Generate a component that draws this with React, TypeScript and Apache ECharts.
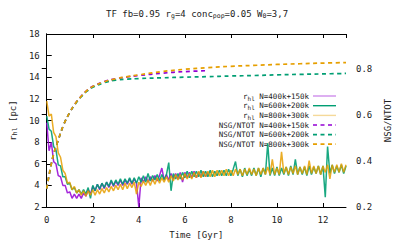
import React, { useEffect, useRef } from "react";
import * as echarts from "echarts";

const FONT = "DejaVu Sans Mono";

const T = [
  0, 0.1, 0.2, 0.3, 0.4, 0.5, 0.6, 0.7, 0.8, 0.9,
  1, 1.1, 1.2, 1.3, 1.4, 1.5, 1.6, 1.7, 1.8, 1.9,
  2, 2.1, 2.2, 2.3, 2.4, 2.5, 2.6, 2.7, 2.8, 2.9,
  3, 3.1, 3.2, 3.3, 3.4, 3.5, 3.6, 3.7, 3.8, 3.9,
  4, 4.1, 4.2, 4.3, 4.4, 4.5, 4.6, 4.7, 4.8, 4.9,
  5, 5.1, 5.2, 5.3, 5.4, 5.5, 5.6, 5.7, 5.8, 5.9,
  6, 6.1, 6.2, 6.3, 6.4, 6.5, 6.6, 6.7, 6.8, 6.9,
  7, 7.1, 7.2, 7.3, 7.4, 7.5, 7.6, 7.7, 7.8, 7.9,
  8, 8.1, 8.2, 8.3, 8.4, 8.5, 8.6, 8.7, 8.8, 8.9,
  9, 9.1, 9.2, 9.3, 9.4, 9.5, 9.6, 9.7, 9.8, 9.9,
  10, 10.1, 10.2, 10.3, 10.4, 10.5, 10.6, 10.7, 10.8, 10.9,
  11, 11.1, 11.2, 11.3, 11.4, 11.5, 11.6, 11.7, 11.8, 11.9,
  12, 12.1, 12.2, 12.3, 12.4, 12.5, 12.6, 12.7, 12.8, 12.9,
  13,
];

const rhl400 = [
  9.8, 7.2, 8.0, 6.2, 6.0, 4.9, 4.8, 4.0, 4.0, 3.3,
  3.4, 2.8, 3.2, 2.8, 3.2, 2.8, 3.3, 3.0, 3.6, 3.2,
  3.9, 3.5, 4.1, 3.6, 4.2, 3.7, 4.3, 3.8, 4.4, 3.9,
  4.4, 4.0, 4.5, 4.0, 4.5, 4.1, 4.6, 4.1, 4.6, 4.2,
  2.0, 4.7, 4.3, 4.8, 4.3, 4.8, 4.4, 4.9, 4.4, 4.9,
  5.6, 4.5, 5.0, 4.5, 5.1, 4.6, 5.1, 4.6, 5.2, 4.3,
  5.2, 4.7, 5.2, 4.7, 5.3, 4.7, 5.2, 4.8, 5.3, 4.8,
  5.2,
];

const rhl600 = [
  10.4, 9.2, 9.0, 7.6, 7.3, 5.9, 5.8, 4.8, 4.8, 4.1,
  4.2, 3.6, 3.8, 3.3, 3.6, 3.2, 3.6, 3.2, 3.8, 2.8,
  4.0, 3.5, 4.1, 3.7, 4.2, 3.8, 4.3, 3.9, 4.5, 4.0,
  4.5, 4.1, 4.6, 4.1, 4.6, 4.2, 4.7, 4.2, 4.7, 4.2,
  4.8, 4.3, 4.9, 4.3, 5.1, 4.4, 4.9, 4.5, 5.0, 4.4,
  5.0, 4.5, 5.0, 6.1, 3.5, 5.1, 4.6, 5.1, 4.6, 5.2,
  4.7, 5.3, 4.7, 5.3, 4.8, 5.3, 4.8, 5.4, 4.8, 5.3,
  4.8, 5.4, 4.8, 5.3, 4.9, 5.4, 4.9, 5.4, 4.9, 5.5,
  4.9, 5.5, 6.2, 4.9, 5.5, 4.8, 5.6, 4.9, 5.5, 4.9,
  5.6, 4.9, 5.6, 4.8, 5.6, 5.0, 7.9, 4.9, 5.6, 4.9,
  5.7, 4.9, 5.6, 5.0, 5.7, 4.9, 5.8, 5.0, 6.4, 5.0,
  5.7, 5.0, 5.7, 4.9, 5.8, 5.0, 5.7, 5.1, 5.8, 5.0,
  5.8, 2.9, 7.6, 5.1, 5.9, 5.1, 5.8, 5.2, 5.9, 5.1,
  5.8,
];

const rhl800 = [
  11.8, 10.4, 10.6, 8.9, 8.5, 7.0, 6.6, 5.4, 5.1, 4.2,
  4.3, 3.6, 3.9, 3.3, 3.6, 3.1, 3.5, 3.0, 3.5, 3.1,
  3.6, 3.1, 3.6, 3.2, 3.7, 3.3, 3.8, 3.4, 3.9, 3.5,
  4.0, 3.6, 4.1, 3.6, 4.2, 3.7, 4.2, 3.8, 4.3, 3.2,
  4.3, 3.9, 4.4, 4.0, 4.5, 4.0, 4.6, 4.1, 4.7, 4.2,
  4.7, 4.3, 4.8, 4.3, 4.9, 4.4, 5.0, 4.5, 5.0, 4.5,
  5.1, 4.6, 5.1, 4.6, 5.2, 4.7, 5.3, 4.7, 5.3, 4.8,
  5.3, 4.8, 5.4, 4.8, 5.4, 4.9, 5.4, 4.9, 5.5, 4.9,
  5.4, 4.9, 5.5, 5.0, 5.5, 4.9, 5.5, 5.0, 5.6, 5.0,
  5.5, 4.9, 5.6, 5.0, 5.6, 5.0, 5.7, 5.0, 6.4, 5.0,
  5.6, 5.0, 7.1, 5.1, 5.7, 5.0, 5.7, 5.1, 5.8, 5.0,
  5.7, 5.1, 5.8, 5.0, 6.3, 5.1, 5.8, 5.1, 5.8, 5.0,
  5.8, 5.2, 5.9, 4.6, 5.9, 5.2, 5.9, 5.2, 6.0, 5.2,
  5.9,
];

const nsgTime = [0, 0.25, 0.5, 0.75, 1, 1.25, 1.5, 1.75, 2, 2.5, 3, 3.5, 4, 5, 6, 7, 8, 9, 10, 11, 12, 13];
const nsg400 = [0.28, 0.41, 0.49, 0.56, 0.61, 0.65, 0.681, 0.706, 0.723, 0.744, 0.756, 0.764, 0.77, 0.78, 0.787, 0.791];
const nsg600 = [0.28, 0.41, 0.49, 0.56, 0.61, 0.648, 0.678, 0.702, 0.719, 0.739, 0.75, 0.754, 0.757, 0.76, 0.763, 0.765, 0.768, 0.77, 0.773, 0.775, 0.777, 0.779];
const nsg800 = [0.28, 0.41, 0.49, 0.56, 0.61, 0.65, 0.68, 0.705, 0.722, 0.743, 0.756, 0.765, 0.773, 0.787, 0.797, 0.804, 0.81, 0.814, 0.818, 0.821, 0.824, 0.826];

const labels = ["N=400k+150k", "N=600k+200k", "N=800k+300k"];
const colors = ["#9400d3", "#009e73", "#e69f00"];

const pairs = (xs: number[], ys: number[]) => ys.map((y, i) => [xs[i], y]);

export default function App() {
  const ref = useRef<HTMLDivElement>(null);
  useEffect(() => {
    if (!ref.current) return;
    const chart = echarts.init(ref.current, null, { renderer: "svg" });
    const rhlSets = [rhl400, rhl600, rhl800];
    const nsgSets = [nsg400, nsg600, nsg800];
    const rhlNames = labels.map((l) => "rhl " + l);
    const nsgNames = labels.map((l) => "NSG/NTOT " + l);
    const rhlOpacity = [0.85, 0.9, 0.85];
    const legendIconOpacity = [0.45, 1, 0.4];

    const series: any[] = [];
    rhlSets.forEach((d, i) =>
      series.push({
        type: "line",
        name: rhlNames[i],
        xAxisIndex: 0,
        yAxisIndex: 0,
        data: pairs(T, d),
        symbol: "none",
        showSymbol: false,
        lineStyle: { color: colors[i], width: 1.5, opacity: rhlOpacity[i] },
        itemStyle: { color: colors[i] },
      })
    );
    nsgSets.forEach((d, i) =>
      series.push({
        type: "line",
        name: nsgNames[i],
        xAxisIndex: 0,
        yAxisIndex: 1,
        data: pairs(nsgTime, d),
        smooth: 0.4,
        symbol: "none",
        showSymbol: false,
        lineStyle: { color: colors[i], width: 1.7, type: [4, 3.5] },
        itemStyle: { color: colors[i] },
      })
    );

    const sub = { fontSize: 6, fontFamily: FONT, fill: "#222", color: "#222", padding: [4, 0, 0, 0] };
    const norm = { fontSize: 7.5, fontFamily: FONT, fill: "#222", color: "#222" };
    const rowY = [96, 105.7, 115.4, 125, 134.6, 144.2];
    const legendGraphics: any[] = [];
    [...rhlNames, ...nsgNames].forEach((n, k) => {
      const i = k % 3;
      const isRhl = k < 3;
      legendGraphics.push({
        type: "text",
        x: 309,
        y: rowY[k],
        silent: true,
        style: {
          text: isRhl ? "{n|r}{s|hl} " + labels[i] : n,
          align: "right",
          verticalAlign: "middle",
          fontSize: 7.5,
          fontFamily: FONT,
          fill: "#222",
          rich: { n: norm, s: sub },
        },
      });
      legendGraphics.push({
        type: "line",
        silent: true,
        shape: { x1: 313, y1: rowY[k], x2: 336, y2: rowY[k] },
        style: isRhl
          ? { stroke: colors[i], lineWidth: 1.4, opacity: legendIconOpacity[i] }
          : { stroke: colors[i], lineWidth: 1.7, lineDash: [4, 3.5] },
      });
    });

    const axisText = { fontSize: 9, fontFamily: FONT, color: "#222" };
    const line = { show: true, lineStyle: { color: "#000", width: 1 } };
    const tick = (len: number) => ({ show: true, inside: true, length: len, lineStyle: { color: "#000" } });

    chart.setOption({
      animation: false,
      textStyle: { fontFamily: FONT },
      title: {
        text: "TF fb=0.95 r{s|g}=4 conc{s|pop}=0.05 W{s|0}=3,7",
        left: 106,
        top: 8,
        padding: 0,
        textStyle: {
          fontSize: 9,
          fontWeight: "normal",
          fontFamily: FONT,
          color: "#222",
          rich: { s: { ...sub, fontSize: 6.5 } },
        },
      },
      graphic: legendGraphics,
      grid: { left: 42, right: 61, top: 34, bottom: 37 },
      xAxis: [
        {
          type: "value",
          position: "bottom",
          min: 0,
          max: 13,
          interval: 2,
          axisLine: line,
          axisTick: tick(4),
          axisLabel: { ...axisText, margin: 8, showMaxLabel: false },
          splitLine: { show: false },
          name: "Time [Gyr]",
          nameLocation: "middle",
          nameGap: 23,
          nameTextStyle: axisText,
        },
        {
          type: "value",
          position: "top",
          min: 0,
          max: 13,
          interval: 2,
          axisLine: line,
          axisTick: tick(4),
          axisLabel: { show: false },
          splitLine: { show: false },
        },
      ],
      yAxis: [
        {
          type: "value",
          position: "left",
          min: 2,
          max: 18,
          interval: 2,
          axisLine: line,
          axisTick: tick(5),
          axisLabel: { ...axisText, margin: 7 },
          splitLine: { show: false },
          name: "{n|r}{s|hl} [pc]",
          nameLocation: "middle",
          nameRotate: 90,
          nameGap: 25,
          nameTextStyle: { ...axisText, rich: { n: axisText, s: { ...sub, fontSize: 6.5 } } },
        },
        {
          type: "value",
          position: "right",
          min: 0.2,
          max: 0.95,
          interval: 0.2,
          axisLine: line,
          axisTick: tick(5),
          axisLabel: {
            ...axisText,
            margin: 10,
            showMaxLabel: false,
            formatter: (v: number) => v.toFixed(1),
          },
          splitLine: { show: false },
          name: "NSG/NTOT",
          nameLocation: "middle",
          nameRotate: 90,
          nameGap: 35,
          nameTextStyle: axisText,
        },
      ],
      series,
    });
    return () => chart.dispose();
  }, []);
  return (
    <div
      ref={ref}
      style={{ position: "fixed", left: 0, top: 0, width: 407, height: 244, background: "#fff" }}
    />
  );
}
